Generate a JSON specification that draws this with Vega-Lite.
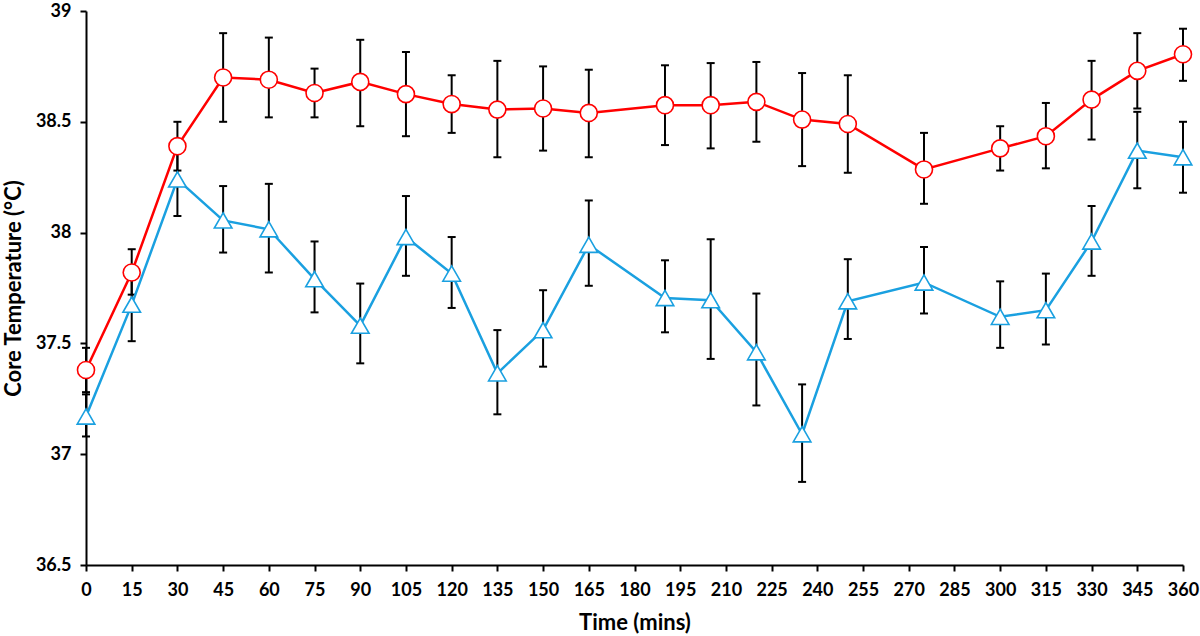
{
  "$schema": "https://vega.github.io/schema/vega-lite/v6.json",
  "width": 1097,
  "height": 554,
  "autosize": {"type": "none"},
  "padding": {"left": 86, "top": 11, "right": 17, "bottom": 71},
  "background": "white",
  "config": {
    "view": {"stroke": null},
    "font": "Lato",
    "axis": {
      "grid": false,
      "domainColor": "black",
      "domainWidth": 2,
      "tickColor": "black",
      "tickWidth": 2,
      "tickSize": 6,
      "labelColor": "black",
      "labelFont": "Lato",
      "labelFontSize": 18,
      "labelFontWeight": "bold",
      "titleColor": "black",
      "titleFont": "Lato",
      "titleFontSize": 22,
      "titleFontWeight": "bold"
    }
  },
  "data": {
    "values": [
      {"time": 0, "group": "Group 1", "mean": 37.38, "lo": 37.28, "hi": 37.48},
      {"time": 15, "group": "Group 1", "mean": 37.82, "lo": 37.72, "hi": 37.925},
      {"time": 30, "group": "Group 1", "mean": 38.39, "lo": 38.28, "hi": 38.5},
      {"time": 45, "group": "Group 1", "mean": 38.7, "lo": 38.5, "hi": 38.9},
      {"time": 60, "group": "Group 1", "mean": 38.69, "lo": 38.52, "hi": 38.88},
      {"time": 75, "group": "Group 1", "mean": 38.63, "lo": 38.52, "hi": 38.74},
      {"time": 90, "group": "Group 1", "mean": 38.68, "lo": 38.48, "hi": 38.87},
      {"time": 105, "group": "Group 1", "mean": 38.625, "lo": 38.435, "hi": 38.815},
      {"time": 120, "group": "Group 1", "mean": 38.58, "lo": 38.45, "hi": 38.71},
      {"time": 135, "group": "Group 1", "mean": 38.555, "lo": 38.34, "hi": 38.775},
      {"time": 150, "group": "Group 1", "mean": 38.56, "lo": 38.37, "hi": 38.75},
      {"time": 165, "group": "Group 1", "mean": 38.54, "lo": 38.34, "hi": 38.735},
      {"time": 190, "group": "Group 1", "mean": 38.575, "lo": 38.395, "hi": 38.755},
      {"time": 205, "group": "Group 1", "mean": 38.575, "lo": 38.38, "hi": 38.765},
      {"time": 220, "group": "Group 1", "mean": 38.59, "lo": 38.41, "hi": 38.77},
      {"time": 235, "group": "Group 1", "mean": 38.51, "lo": 38.3, "hi": 38.72},
      {"time": 250, "group": "Group 1", "mean": 38.49, "lo": 38.27, "hi": 38.71},
      {"time": 275, "group": "Group 1", "mean": 38.285, "lo": 38.13, "hi": 38.45},
      {"time": 300, "group": "Group 1", "mean": 38.38, "lo": 38.28, "hi": 38.48},
      {"time": 315, "group": "Group 1", "mean": 38.435, "lo": 38.29, "hi": 38.585},
      {"time": 330, "group": "Group 1", "mean": 38.6, "lo": 38.42, "hi": 38.775},
      {"time": 345, "group": "Group 1", "mean": 38.73, "lo": 38.56, "hi": 38.9},
      {"time": 360, "group": "Group 1", "mean": 38.805, "lo": 38.685, "hi": 38.92},
      {"time": 0, "group": "Group 2", "mean": 37.17, "lo": 37.08, "hi": 37.27},
      {"time": 15, "group": "Group 2", "mean": 37.675, "lo": 37.51, "hi": 37.84},
      {"time": 30, "group": "Group 2", "mean": 38.24, "lo": 38.075, "hi": 38.41},
      {"time": 45, "group": "Group 2", "mean": 38.055, "lo": 37.91, "hi": 38.21},
      {"time": 60, "group": "Group 2", "mean": 38.015, "lo": 37.82, "hi": 38.22},
      {"time": 75, "group": "Group 2", "mean": 37.79, "lo": 37.64, "hi": 37.96},
      {"time": 90, "group": "Group 2", "mean": 37.58, "lo": 37.41, "hi": 37.77},
      {"time": 105, "group": "Group 2", "mean": 37.98, "lo": 37.805, "hi": 38.165},
      {"time": 120, "group": "Group 2", "mean": 37.815, "lo": 37.66, "hi": 37.98},
      {"time": 135, "group": "Group 2", "mean": 37.365, "lo": 37.18, "hi": 37.56},
      {"time": 150, "group": "Group 2", "mean": 37.56, "lo": 37.395, "hi": 37.74},
      {"time": 165, "group": "Group 2", "mean": 37.945, "lo": 37.76, "hi": 38.145},
      {"time": 190, "group": "Group 2", "mean": 37.705, "lo": 37.55, "hi": 37.875},
      {"time": 205, "group": "Group 2", "mean": 37.695, "lo": 37.43, "hi": 37.97},
      {"time": 220, "group": "Group 2", "mean": 37.46, "lo": 37.22, "hi": 37.725},
      {"time": 235, "group": "Group 2", "mean": 37.09, "lo": 36.875, "hi": 37.315},
      {"time": 250, "group": "Group 2", "mean": 37.69, "lo": 37.52, "hi": 37.88},
      {"time": 275, "group": "Group 2", "mean": 37.775, "lo": 37.635, "hi": 37.935},
      {"time": 300, "group": "Group 2", "mean": 37.62, "lo": 37.48, "hi": 37.78},
      {"time": 315, "group": "Group 2", "mean": 37.65, "lo": 37.495, "hi": 37.815},
      {"time": 330, "group": "Group 2", "mean": 37.96, "lo": 37.805, "hi": 38.12},
      {"time": 345, "group": "Group 2", "mean": 38.37, "lo": 38.2, "hi": 38.545},
      {"time": 360, "group": "Group 2", "mean": 38.34, "lo": 38.18, "hi": 38.5}
    ]
  },
  "encoding": {
    "x": {
      "field": "time",
      "type": "quantitative",
      "scale": {"domain": [0, 360], "nice": false, "zero": false},
      "axis": {
        "title": "Time (mins)",
        "values": [0, 15, 30, 45, 60, 75, 90, 105, 120, 135, 150, 165, 180, 195, 210, 225, 240, 255, 270, 285, 300, 315, 330, 345, 360],
        "labelPadding": 10,
        "titlePadding": 13,
        "labelFlush": false,
        "labelOverlap": false
      }
    },
    "y": {
      "field": "mean",
      "type": "quantitative",
      "scale": {"domain": [36.5, 39], "nice": false, "zero": false},
      "axis": {
        "title": "Core Temperature (°C)",
        "values": [36.5, 37, 37.5, 38, 38.5, 39],
        "format": ".1~f",
        "labelPadding": 9,
        "titlePadding": 10
      }
    }
  },
  "layer": [
    {
      "mark": {"type": "rule", "color": "black", "strokeWidth": 2},
      "encoding": {
        "y": {"field": "lo", "type": "quantitative"},
        "y2": {"field": "hi"}
      }
    },
    {
      "mark": {"type": "tick", "color": "black", "thickness": 2, "size": 8, "orient": "horizontal", "opacity": 1},
      "encoding": {"y": {"field": "lo", "type": "quantitative"}}
    },
    {
      "mark": {"type": "tick", "color": "black", "thickness": 2, "size": 8, "orient": "horizontal", "opacity": 1},
      "encoding": {"y": {"field": "hi", "type": "quantitative"}}
    },
    {
      "mark": {"type": "line", "strokeWidth": 2.5},
      "encoding": {
        "color": {
          "field": "group",
          "type": "nominal",
          "scale": {"domain": ["Group 1", "Group 2"], "range": ["#ff0000", "#1aa0e0"]},
          "legend": null
        }
      }
    },
    {
      "transform": [{"filter": "datum.group === 'Group 1'"}],
      "mark": {"type": "point", "shape": "circle", "size": 290, "fill": "white", "filled": false, "stroke": "#ff0000", "strokeWidth": 1.6, "opacity": 1, "fillOpacity": 1}
    },
    {
      "transform": [{"filter": "datum.group === 'Group 2'"}],
      "mark": {"type": "point", "shape": "triangle-up", "size": 310, "fill": "white", "filled": false, "stroke": "#1aa0e0", "strokeWidth": 1.6, "opacity": 1, "fillOpacity": 1}
    }
  ]
}
